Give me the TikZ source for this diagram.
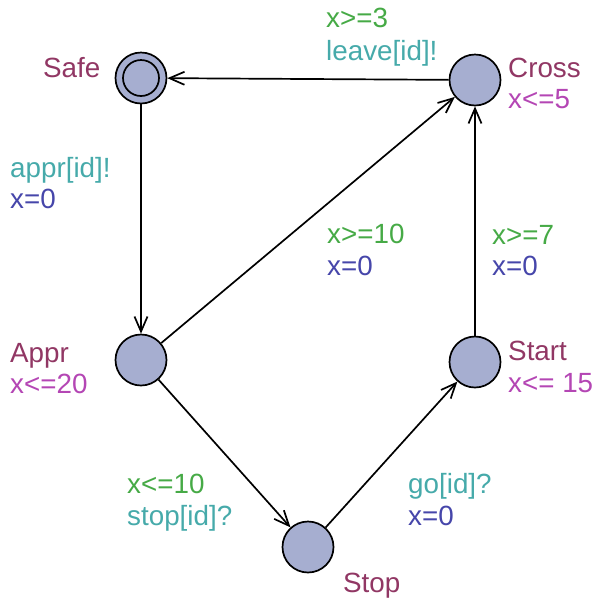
\documentclass[tikz,border=0pt]{standalone}
\usepackage{fontspec}
\setmainfont{Liberation Sans}
\usetikzlibrary{arrows.meta}
\definecolor{locfill}{RGB}{166,174,208}
\definecolor{namecol}{RGB}{145,55,100}
\definecolor{invcol}{RGB}{180,70,180}
\definecolor{guardcol}{RGB}{70,170,70}
\definecolor{synccol}{RGB}{70,170,170}
\definecolor{assigncol}{RGB}{70,70,170}
\tikzset{
  loc/.style={circle, draw=black, line width=1.7pt, fill=locfill, minimum size=51pt, inner sep=0pt},
  lbl/.style={anchor=base west, inner sep=0pt, font=\fontsize{27.8}{32}\selectfont},
  lname/.style={lbl, text=namecol},
  linv/.style={lbl, text=invcol},
  lguard/.style={lbl, text=guardcol},
  lsync/.style={lbl, text=synccol},
  lassign/.style={lbl, text=assigncol},
  edge/.style={line width=1.7pt, -{Straight Barb[length=15pt,width=13pt,line width=1.7pt]}}
}
\begin{document}
\begin{tikzpicture}[x=1pt,y=-1pt]
\useasboundingbox (0,0) rectangle (599,598);
% locations
\node[loc] (safe) at (141,78) {};
\node[circle, draw=black, line width=1.7pt, minimum size=36pt, inner sep=0pt] (safeinner) at (safe.center) {};
\node[loc] (cross) at (475,80) {};
\node[loc] (appr) at (141,360) {};
\node[loc] (start) at (475,362) {};
\node[loc] (stop) at (308,547) {};
% names and invariants
\node[lname] (nsafe) at (43,77) {Safe};
\node[lname] (ncross) at (508,77) {Cross};
\node[linv] (icross) at (508,108) {x<=5};
\node[lname] (nappr) at (10,362) {Appr};
\node[linv] (iappr) at (10,393) {x<=20};
\node[lname] (nstart) at (508,360) {Start};
\node[linv] (istart) at (508,392) {x<= 15};
\node[lname] (nstop) at (343,592) {Stop};
% edges
\draw[edge] (cross) -- (safe);
\draw[edge] (safe) -- (appr);
\draw[edge] (appr) -- (cross);
\draw[edge] (appr) -- (stop);
\draw[edge] (stop) -- (start);
\draw[edge] (start) -- (cross);
% edge labels
\node[lguard] (g1) at (326,27) {x>=3};
\node[lsync] (s1) at (326,60) {leave[id]!};
\node[lsync] (s2) at (10,177) {appr[id]!};
\node[lassign] (a2) at (10,208) {x=0};
\node[lguard] (g3) at (327,243) {x>=10};
\node[lassign] (a3) at (327,275) {x=0};
\node[lguard] (g4) at (492,244) {x>=7};
\node[lassign] (a4) at (492,275) {x=0};
\node[lguard] (g5) at (127,493) {x<=10};
\node[lsync] (s5) at (127,525) {stop[id]?};
\node[lsync] (s6) at (408,493) {go[id]?};
\node[lassign] (a6) at (408,525) {x=0};
\end{tikzpicture}
\end{document}
